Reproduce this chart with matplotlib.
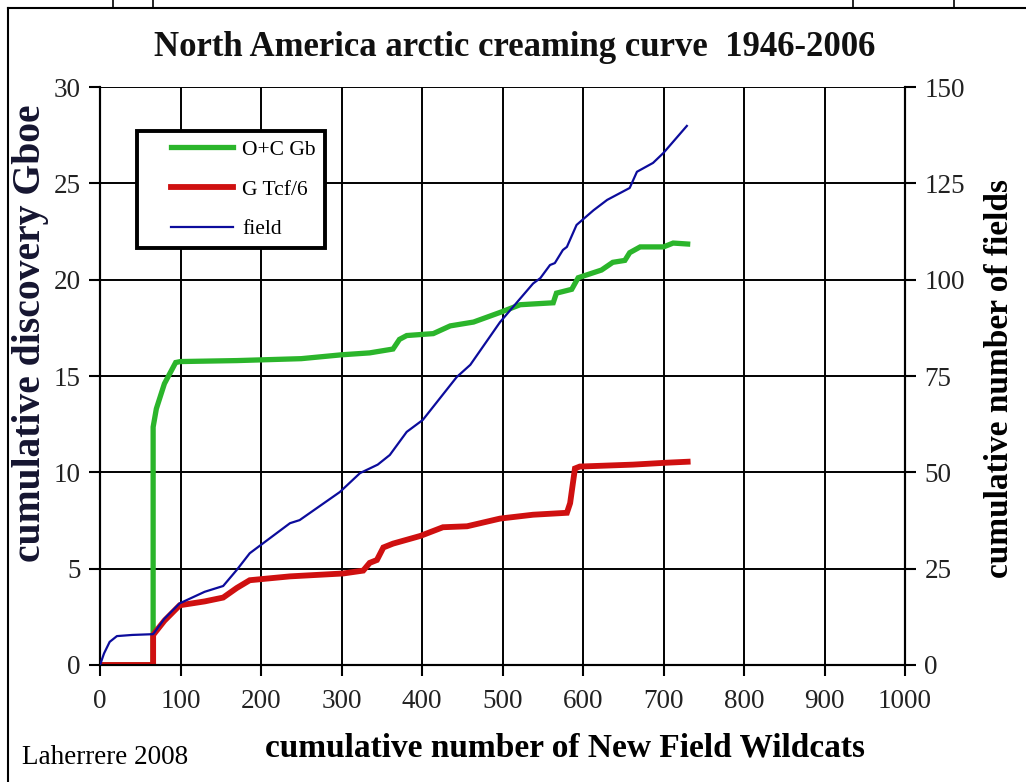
import matplotlib
matplotlib.use("Agg")
import matplotlib.pyplot as plt
from matplotlib.lines import Line2D
from matplotlib.legend_handler import HandlerLine2D

# ---- data ----
green_x = [0, 66, 66, 70, 80, 94, 100, 170, 250, 300, 335, 364, 372, 381, 414, 435,
           464, 497, 522, 563, 567, 586, 594, 623, 637, 652, 658, 671, 700, 712, 730]
green_y = [0, 0, 12.35, 13.3, 14.6, 15.7, 15.75, 15.8, 15.9, 16.1, 16.2, 16.4, 16.9,
           17.1, 17.2, 17.6, 17.8, 18.3, 18.7, 18.8, 19.3, 19.5, 20.1, 20.5, 20.9,
           21.0, 21.4, 21.7, 21.7, 21.9, 21.85]

red_x = [0, 66, 66, 80, 99, 130, 153, 170, 186, 236, 302, 327, 335, 344, 352, 364,
         398, 426, 456, 497, 538, 580, 584, 590, 596, 662, 704, 730]
red_y = [0, 0, 1.56, 2.3, 3.1, 3.3, 3.5, 4.0, 4.4, 4.6, 4.75, 4.9, 5.3, 5.45, 6.1,
         6.3, 6.7, 7.15, 7.2, 7.6, 7.8, 7.9, 8.4, 10.2, 10.3, 10.4, 10.5, 10.55]

field_x = [0, 5, 12, 21, 40, 66, 80, 99, 130, 153, 170, 186, 236, 248, 298, 323, 345,
           360, 381, 401, 443, 460, 497, 538, 547, 559, 565, 575, 580, 592, 613, 630,
           658, 667, 687, 700, 729]
field_y = [0, 3, 6, 7.5, 7.8, 8, 12, 16, 19, 20.5, 24.7, 29, 36.8, 37.6, 44.9, 49.8,
           52, 54.5, 60.5, 63.6, 74.7, 77.9, 89, 99, 100.4, 103.8, 104.3, 107.7,
           108.5, 114.2, 118, 120.7, 123.8, 128, 130.3, 132.9, 139.9]

x_ticks = [0, 100, 200, 300, 400, 500, 600, 700, 800, 900, 1000]
left_ticks = [0, 5, 10, 15, 20, 25, 30]
right_ticks = [0, 25, 50, 75, 100, 125, 150]

labels = ["O+C Gb", "G Tcf/6", "field"]
title = "North America arctic creaming curve  1946-2006"
xlabel = "cumulative number of New Field Wildcats"
ylabel_left = "cumulative discovery Gboe"
ylabel_right = "cumulative number of fields"
credit = "Laherrere 2008"

# ---- styling ----
plt.rcParams['font.family'] = ['Liberation Serif', 'DejaVu Serif']
W, H = 1026, 782
fig = plt.figure(figsize=(W / 100, H / 100), dpi=100)
fig.patch.set_facecolor('white')

ax = fig.add_axes([100 / W, 1 - 665 / H, 805 / W, 578 / H])
ax2 = ax.twinx()

GREEN = '#2bb52b'
RED = '#cf1010'
BLUE = '#0c0c9c'

lg, = ax.plot(green_x, green_y, color=GREEN, lw=3.8, solid_joinstyle='miter', zorder=3)
lr, = ax.plot(red_x, red_y, color=RED, lw=4.2, solid_joinstyle='miter', zorder=4)
lb, = ax2.plot(field_x, field_y, color=BLUE, lw=1.6, zorder=5)

ax.set_xlim(0, 1000)
ax.set_ylim(0, 30)
ax2.set_ylim(0, 150)
ax.set_xticks(x_ticks)
ax.set_yticks(left_ticks)
ax2.set_yticks(right_ticks)

ax.grid(True, color='black', lw=1.4)
ax.set_axisbelow(True)
for a in (ax, ax2):
    for s in a.spines.values():
        s.set_color('black')
        s.set_linewidth(1.5)
    a.spines['top'].set_visible(False)
ax.tick_params(axis='both', direction='out', length=8, width=1.5,
               labelsize=19.5, colors='black', labelcolor='#222222', pad=6)
ax.tick_params(axis='x', pad=9)
ax2.tick_params(axis='y', direction='out', length=8, width=1.5,
                labelsize=19.5, colors='black', labelcolor='#222222', pad=6)

# legend
LFS = 15.5
leg = ax2.legend([lg, lr, lb], labels, loc='upper left',
                 bbox_to_anchor=(137 / W, 1 - 131 / H), bbox_transform=fig.transFigure,
                 fontsize=LFS, frameon=True, fancybox=False, framealpha=1,
                 edgecolor='black', borderpad=0.4, labelspacing=0.92,
                 handlelength=4.05, handletextpad=0.45, borderaxespad=0,
                 handler_map={Line2D: HandlerLine2D(xpad=1.2)})
leg.get_frame().set_linewidth(2.8)
leg.set_zorder(10)

# texts
fig.text(515 / W, 1 - 47 / H, title, ha='center', va='center',
         fontsize=25, fontweight='bold', color='#111111')
fig.text(565 / W, 1 - 748 / H, xlabel, ha='center', va='center',
         fontsize=24, fontweight='bold', color='black')
fig.text(31 / W, 1 - 333 / H, ylabel_left, ha='center', va='center', rotation=90,
         fontsize=28.5, fontweight='bold', color='#151530')
fig.text(1000 / W, 1 - 378 / H, ylabel_right, ha='center', va='center', rotation=90,
         fontsize=24, fontweight='bold', color='black')
fig.text(22 / W, 1 - 757 / H, credit, ha='left', va='center',
         fontsize=19.5, color='black')

# outer page frame
fig.add_artist(Line2D([8 / W, 1], [1 - 8 / H, 1 - 8 / H], transform=fig.transFigure,
                      color='black', lw=1.5))
fig.add_artist(Line2D([8 / W, 8 / W], [0, 1 - 8 / H], transform=fig.transFigure,
                      color='black', lw=1.5))
for xp in (113, 153, 853, 954):
    fig.add_artist(Line2D([xp / W, xp / W], [1 - 8 / H, 1], transform=fig.transFigure,
                          color='black', lw=1.2))

fig.savefig('out.png', dpi=100, facecolor='white')
